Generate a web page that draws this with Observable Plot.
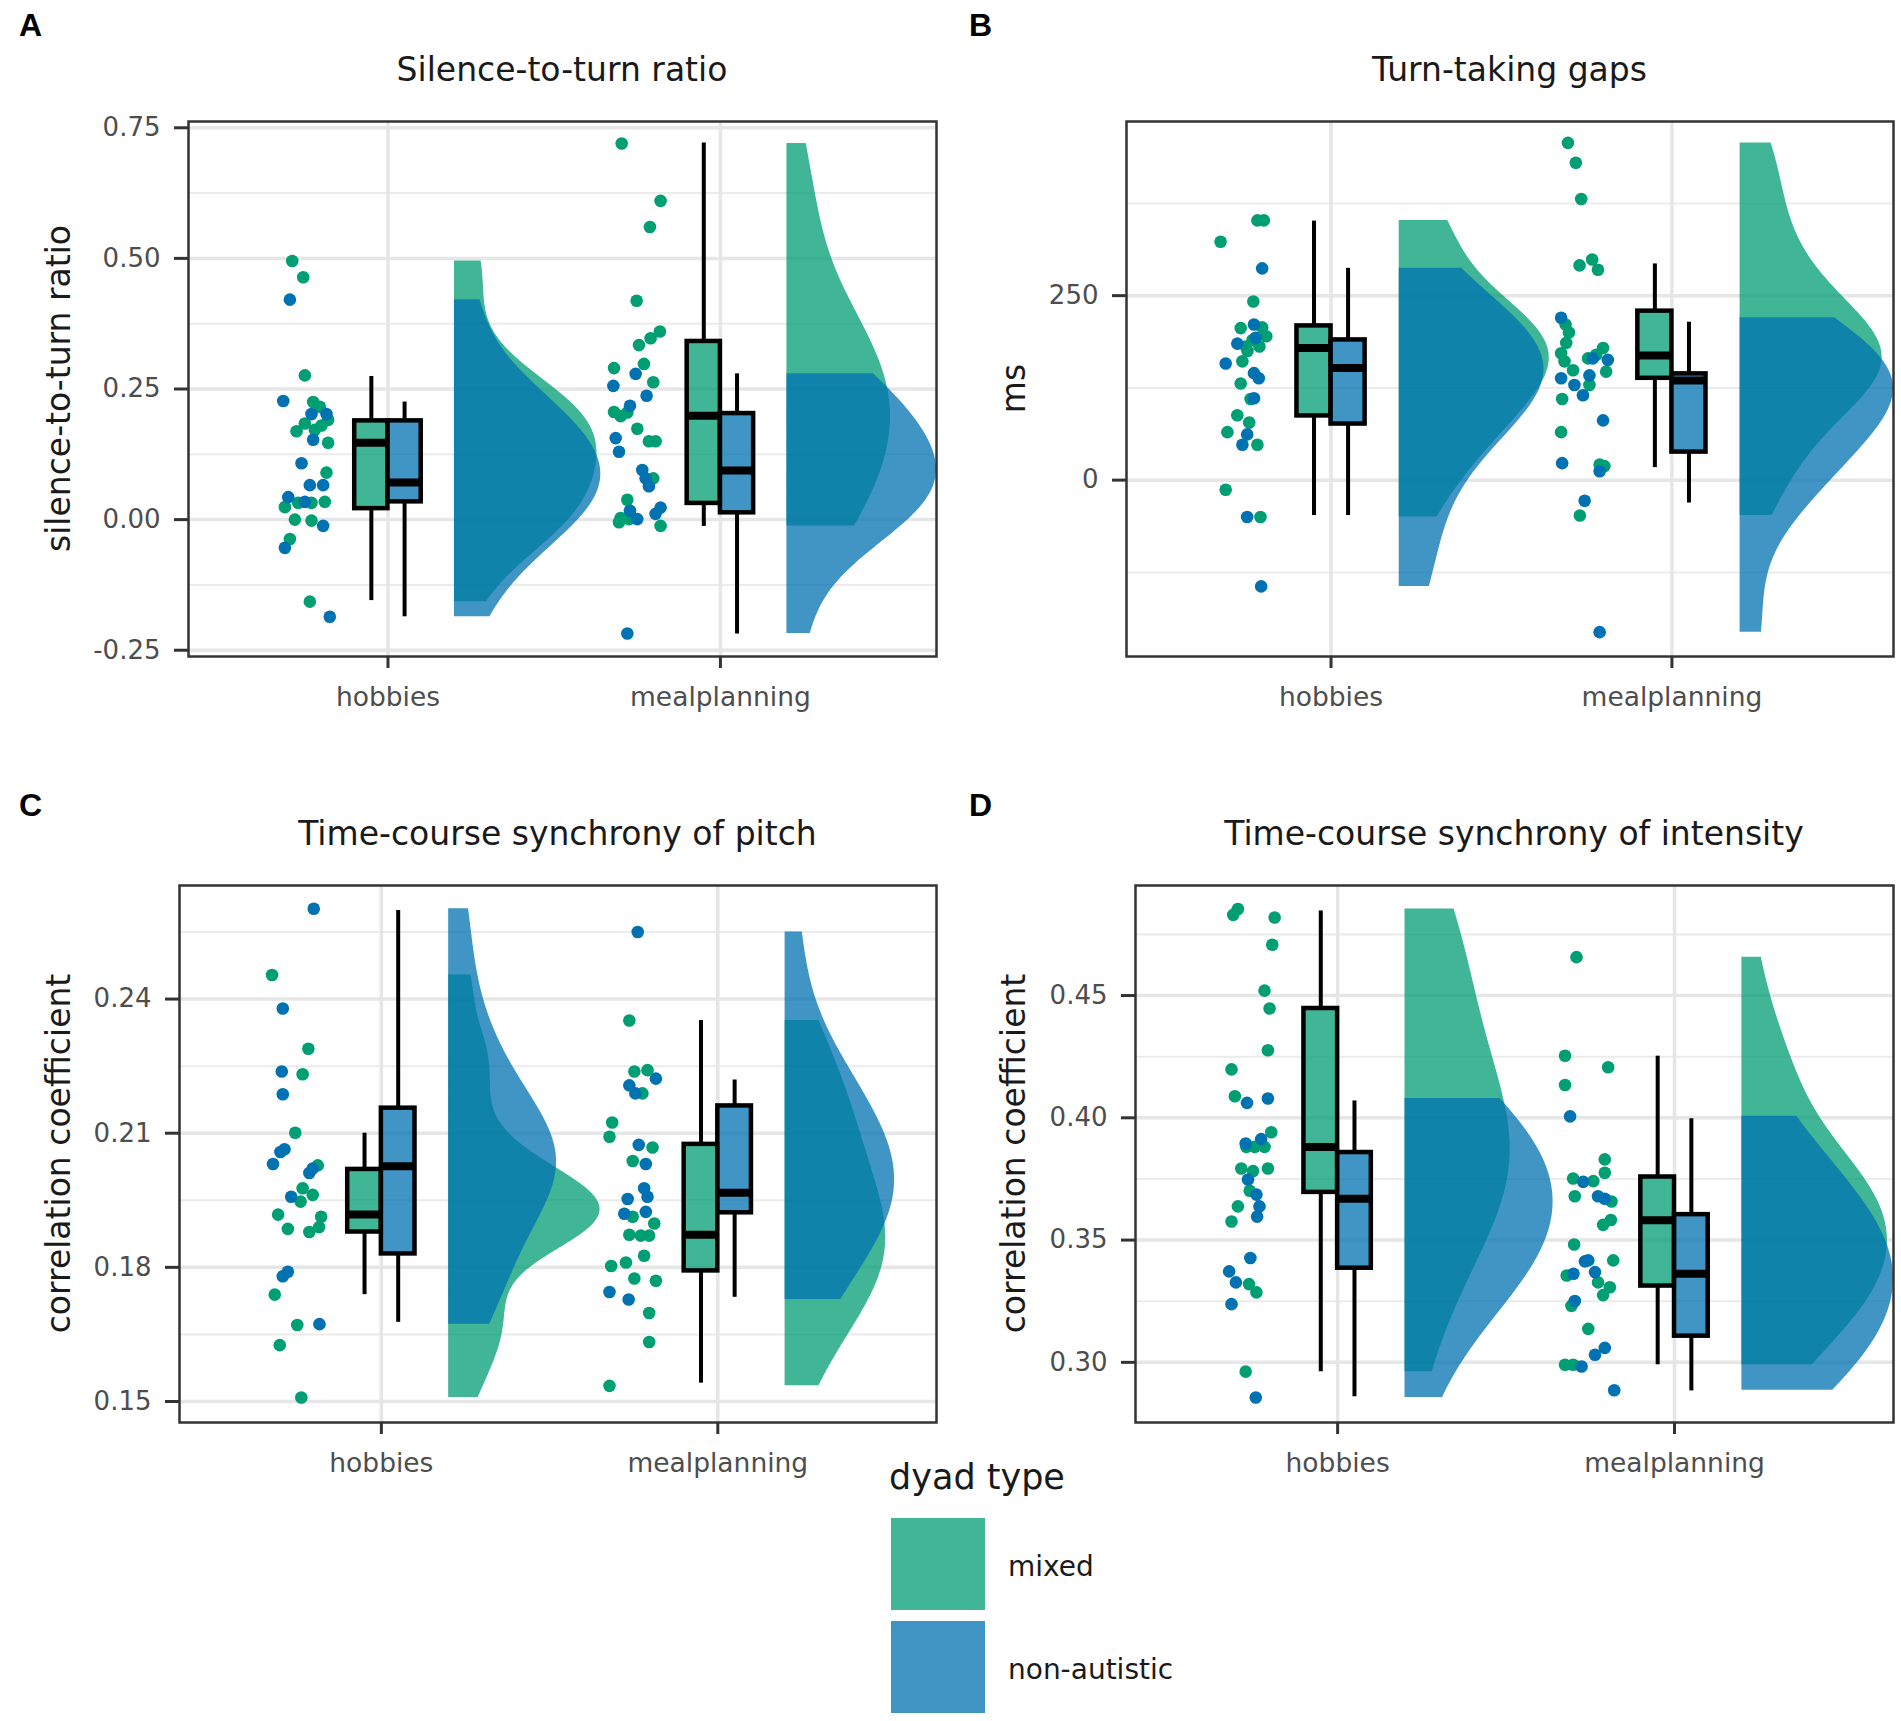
<!DOCTYPE html>
<html><head><meta charset="utf-8">
<script src="https://cdn.jsdelivr.net/npm/d3@7"></script>
<script src="https://cdn.jsdelivr.net/npm/@observablehq/plot@0.6"></script>
<style>
html,body{margin:0;padding:0;background:#fff;}
body{width:1901px;height:1721px;position:relative;overflow:hidden;font-family:"DejaVu Sans",sans-serif;}
.panel{position:absolute;}
.panel svg{display:block;max-width:none;}
#overlay{position:absolute;left:0;top:0;pointer-events:none;}
</style></head><body>
<script>
// ---------- categories & legend ----------
const tasks = ["hobbies", "mealplanning"];
const dyadTypes = ["mixed", "non-autistic"];
const typeColors = ["#009E73", "#0072B2"];
const panelTitles = ["Silence-to-turn ratio", "Turn-taking gaps", "Time-course synchrony of pitch", "Time-course synchrony of intensity"];
const yTitles = ["silence-to-turn ratio", "ms", "correlation coefficient", "correlation coefficient"];
const panelLetters = ["A", "B", "C", "D"];

// ---------- data: [jitter offset from task position, value] ----------
// A: silence-to-turn ratio
const silHobMixed = [[-0.288,0.495],[-0.255,0.464],[-0.25,0.276],[-0.225,0.225],[-0.205,0.216],[-0.18,0.191],[-0.275,0.169],[-0.25,0.184],[-0.22,0.172],[-0.18,0.147],[-0.2,0.18],[-0.185,0.09],[-0.31,0.024],[-0.27,0.032],[-0.23,0.032],[-0.19,0.034],[-0.28,0.0],[-0.23,-0.002],[-0.295,-0.037],[-0.235,-0.157]];
const silHobNon = [[-0.295,0.421],[-0.315,0.227],[-0.23,0.202],[-0.185,0.202],[-0.225,0.153],[-0.26,0.108],[-0.235,0.066],[-0.195,0.066],[-0.30,0.043],[-0.25,0.034],[-0.195,-0.012],[-0.31,-0.054],[-0.175,-0.186]];
const silMealMixed = [[-0.297,0.72],[-0.18,0.61],[-0.212,0.56],[-0.252,0.419],[-0.182,0.36],[-0.21,0.347],[-0.245,0.334],[-0.23,0.298],[-0.32,0.29],[-0.202,0.263],[-0.32,0.206],[-0.28,0.205],[-0.30,0.198],[-0.25,0.174],[-0.215,0.15],[-0.195,0.15],[-0.202,0.079],[-0.28,0.038],[-0.305,-0.005],[-0.275,0.001],[-0.30,0.003],[-0.18,-0.012]];
const silMealNon = [[-0.255,0.279],[-0.322,0.256],[-0.222,0.237],[-0.272,0.218],[-0.315,0.156],[-0.305,0.13],[-0.235,0.095],[-0.225,0.079],[-0.215,0.064],[-0.272,0.017],[-0.25,0.001],[-0.195,0.011],[-0.18,0.023],[-0.28,-0.218]];
// B: turn-taking gaps (ms)
const gapHobMixed = [[-0.216,352],[-0.197,352],[-0.324,323],[-0.228,242],[-0.265,206],[-0.202,207],[-0.25,181],[-0.21,181],[-0.23,190],[-0.245,175],[-0.19,195],[-0.26,161],[-0.265,131],[-0.236,110],[-0.275,88],[-0.24,78],[-0.304,65],[-0.216,48],[-0.309,-13],[-0.207,-50]];
const gapHobNon = [[-0.202,287],[-0.226,211],[-0.221,193],[-0.275,185],[-0.309,158],[-0.226,145],[-0.212,138],[-0.226,111],[-0.246,62],[-0.26,48],[-0.246,-50],[-0.205,-144]];
const gapMealMixed = [[-0.305,457],[-0.282,430],[-0.266,381],[-0.271,291],[-0.234,299],[-0.217,285],[-0.312,211],[-0.302,200],[-0.31,186],[-0.325,172],[-0.315,161],[-0.29,149],[-0.242,129],[-0.246,165],[-0.222,170],[-0.202,179],[-0.193,147],[-0.322,110],[-0.325,65],[-0.212,21],[-0.198,19],[-0.27,-48]];
const gapMealNon = [[-0.325,220],[-0.232,165],[-0.188,163],[-0.325,138],[-0.286,129],[-0.261,115],[-0.242,142],[-0.202,81],[-0.322,23],[-0.212,12],[-0.256,-28],[-0.212,-206]];
// C: pitch synchrony
const pitHobMixed = [[-0.325,0.2454],[-0.217,0.2289],[-0.234,0.2232],[-0.256,0.2101],[-0.189,0.2028],[-0.234,0.1977],[-0.204,0.1962],[-0.24,0.1947],[-0.307,0.1918],[-0.179,0.1913],[-0.278,0.1886],[-0.214,0.1879],[-0.185,0.189],[-0.317,0.1739],[-0.25,0.1671],[-0.302,0.1626],[-0.238,0.1509]];
const pitHobNon = [[-0.201,0.2602],[-0.293,0.2379],[-0.296,0.2238],[-0.293,0.2187],[-0.288,0.2064],[-0.30,0.2058],[-0.322,0.2031],[-0.204,0.2021],[-0.214,0.2011],[-0.268,0.1958],[-0.293,0.178],[-0.278,0.179],[-0.184,0.1673]];
const pitMealMixed = [[-0.263,0.2352],[-0.248,0.2238],[-0.209,0.2241],[-0.224,0.2189],[-0.314,0.2124],[-0.322,0.2092],[-0.194,0.2068],[-0.253,0.2038],[-0.253,0.1913],[-0.189,0.1898],[-0.263,0.1873],[-0.229,0.1871],[-0.204,0.1871],[-0.219,0.1826],[-0.317,0.1803],[-0.273,0.1811],[-0.248,0.1775],[-0.184,0.177],[-0.204,0.1698],[-0.204,0.1633],[-0.322,0.1535]];
const pitMealNon = [[-0.238,0.255],[-0.263,0.2207],[-0.245,0.2189],[-0.184,0.2222],[-0.235,0.2074],[-0.214,0.2031],[-0.219,0.1977],[-0.268,0.1953],[-0.209,0.1958],[-0.278,0.192],[-0.214,0.1924],[-0.322,0.1745],[-0.265,0.1728]];
// D: intensity synchrony
const intHobMixed = [[-0.31,0.483],[-0.296,0.4854],[-0.187,0.4819],[-0.194,0.4708],[-0.217,0.452],[-0.202,0.4447],[-0.207,0.4276],[-0.315,0.4198],[-0.305,0.4088],[-0.197,0.3941],[-0.271,0.3881],[-0.246,0.3881],[-0.217,0.3881],[-0.286,0.3793],[-0.251,0.3782],[-0.207,0.3793],[-0.261,0.3702],[-0.296,0.3638],[-0.315,0.3576],[-0.263,0.332],[-0.241,0.3286],[-0.273,0.2962]];
const intHobNon = [[-0.269,0.4061],[-0.207,0.4079],[-0.273,0.3895],[-0.227,0.3913],[-0.266,0.3748],[-0.241,0.3686],[-0.232,0.3638],[-0.239,0.3596],[-0.259,0.3427],[-0.322,0.3372],[-0.302,0.3327],[-0.315,0.3238],[-0.243,0.2856]];
const intMealMixed = [[-0.291,0.4657],[-0.325,0.4254],[-0.197,0.4207],[-0.325,0.4134],[-0.207,0.383],[-0.207,0.3775],[-0.301,0.3752],[-0.241,0.3741],[-0.296,0.3679],[-0.187,0.3658],[-0.212,0.3562],[-0.189,0.3582],[-0.298,0.3482],[-0.182,0.3417],[-0.32,0.3355],[-0.227,0.3327],[-0.192,0.3307],[-0.212,0.3275],[-0.306,0.3231],[-0.256,0.3137],[-0.325,0.299],[-0.301,0.299]];
const intMealNon = [[-0.31,0.4006],[-0.271,0.3738],[-0.227,0.3679],[-0.207,0.3669],[-0.266,0.3413],[-0.256,0.3417],[-0.236,0.3369],[-0.3,0.3362],[-0.296,0.3251],[-0.207,0.3059],[-0.236,0.3031],[-0.276,0.2983],[-0.179,0.2886]];

// ---------- box statistics [lower whisker, q1, median, q3, upper whisker]
// order: hobbies-mixed, hobbies-non-autistic, mealplanning-mixed, mealplanning-non-autistic
const silBox = [[-0.155,0.021,0.147,0.189,0.274],[-0.186,0.034,0.071,0.189,0.225],[-0.013,0.031,0.199,0.341,0.721],[-0.219,0.013,0.094,0.203,0.279]];
const gapBox = [[-48,87,179,209,351],[-48,76,152,190,287],[17,138,169,229,293],[-31,38,135,144,214]];
const pitBox = [[0.1739,0.1879,0.1918,0.2019,0.2100],[0.1677,0.1830,0.2026,0.2156,0.2598],[0.1541,0.1792,0.1873,0.2075,0.2352],[0.1733,0.1922,0.1967,0.2161,0.2219]];
const intBox = [[0.2962,0.3695,0.3881,0.4447,0.4846],[0.2859,0.3385,0.3669,0.3858,0.4069],[0.2990,0.3312,0.3581,0.3758,0.4252],[0.2883,0.3107,0.3362,0.3604,0.3996]];

// ---------- axis ticks ----------
const silMajor = [-0.25, 0, 0.25, 0.5, 0.75], silMinor = [-0.125, 0.125, 0.375, 0.625];
const gapMajor = [0, 250], gapMinor = [-125, 125, 375];
const pitMajor = [0.15, 0.18, 0.21, 0.24], pitMinor = [0.165, 0.195, 0.225, 0.255];
const intMajor = [0.30, 0.35, 0.40, 0.45], intMinor = [0.325, 0.375, 0.425, 0.475];

// ---------- layout ----------
const panels = [
  {left:0, top:0, width:950, height:730, frame:[188,936,121,656], ydomain:[-0.262,0.762], major:silMajor, minor:silMinor, fmt:d=>d.toFixed(2), groups:[silHobMixed,silHobNon,silMealMixed,silMealNon], box:silBox},
  {left:950, top:0, width:951, height:730, frame:[1126,1893,121,656], ydomain:[-239,486], major:gapMajor, minor:gapMinor, fmt:d=>String(d), groups:[gapHobMixed,gapHobNon,gapMealMixed,gapMealNon], box:gapBox},
  {left:0, top:760, width:950, height:720, frame:[179,936,885,1422], ydomain:[0.1453,0.2654], major:pitMajor, minor:pitMinor, fmt:d=>d.toFixed(2), groups:[pitHobMixed,pitHobNon,pitMealMixed,pitMealNon], box:pitBox},
  {left:950, top:760, width:951, height:720, frame:[1135,1893,885,1422], ydomain:[0.2754,0.495], major:intMajor, minor:intMinor, fmt:d=>d.toFixed(2), groups:[intHobMixed,intHobNon,intMealMixed,intMealNon], box:intBox}
];

// gaussian KDE, bandwidth nrd0 (adjusted), trimmed to data range
const bwAdjust = 1.5;
function kde(vals) {
  const v = vals.slice().sort(d3.ascending);
  const n = v.length;
  const sd = d3.deviation(v);
  const iqr = d3.quantile(v, 0.75) - d3.quantile(v, 0.25);
  let lo = Math.min(sd, iqr / 1.34);
  if (!(lo > 0)) lo = sd || 1;
  const bw = bwAdjust * 0.9 * lo * Math.pow(n, -0.2);
  const mn = v[0], mx = v[n - 1];
  return d3.range(512).map(i => {
    const y = mn + (mx - mn) * i / 511;
    let s = 0;
    for (const x of v) { const z = (y - x) / bw; s += Math.exp(-0.5 * z * z); }
    return {y, d: s / (n * bw * Math.sqrt(2 * Math.PI))};
  });
}

panels.forEach((p, pi) => {
  const marks = [];
  marks.push(Plot.ruleY(p.minor, {stroke:"#ebebeb", strokeWidth:2}));
  marks.push(Plot.ruleY(p.major, {stroke:"#e6e6e6", strokeWidth:3.5}));
  marks.push(Plot.ruleX([1, 2], {stroke:"#e6e6e6", strokeWidth:3.5}));

  // violins
  const dens = p.groups.map(g => kde(g.map(d => d[1])));
  const maxD = d3.max(dens, g => d3.max(g, d => d.d));
  dens.forEach((g, gi) => {
    const pos = 1 + Math.floor(gi / 2), t = gi % 2;
    marks.push(Plot.areaX(g, {y:"y", x1: () => pos + 0.2, x2: d => pos + 0.2 + 0.45 * d.d / maxD, fill: typeColors[t], fillOpacity: 0.75, curve:"linear"}));
  });

  // points
  p.groups.forEach((g, gi) => {
    const pos = 1 + Math.floor(gi / 2), t = gi % 2;
    marks.push(Plot.dot(g, {x: d => pos + d[0], y: d => d[1], r: 6.3, fill: typeColors[t]}));
  });

  // boxes
  const bd = p.box.map((b, i) => {
    const pos = 1 + Math.floor(i / 2), t = i % 2;
    const c = pos + (t ? 0.05 : -0.05);
    return {t, c, x1: c - 0.05, x2: c + 0.05, lo: b[0], q1: b[1], med: b[2], q3: b[3], hi: b[4]};
  });
  marks.push(Plot.ruleX(bd, {x:"c", y1:"lo", y2:"q1", stroke:"#000", strokeWidth:4}));
  marks.push(Plot.ruleX(bd, {x:"c", y1:"q3", y2:"hi", stroke:"#000", strokeWidth:4}));
  [0, 1].forEach(t => {
    marks.push(Plot.rect(bd.filter(d => d.t === t), {x1:"x1", x2:"x2", y1:"q1", y2:"q3", fill: typeColors[t], fillOpacity:0.75, stroke:"#000", strokeWidth:4.5}));
  });
  marks.push(Plot.ruleY(bd, {y:"med", x1:"x1", x2:"x2", stroke:"#000", strokeWidth:8}));

  marks.push(Plot.frame({stroke:"#333", strokeWidth:2.5}));
  marks.push(Plot.axisY({ticks: p.major, tickFormat: p.fmt, tickSize:14, tickPadding:14, fontSize:26, stroke:"#333", strokeWidth:3, fill:"#4d4d4d"}));
  marks.push(Plot.axisX({ticks: [1, 2], tickFormat: d => tasks[d - 1], tickSize:12, tickPadding:19, fontSize:26.5, stroke:"#333", strokeWidth:3, fill:"#4d4d4d"}));

  const chart = Plot.plot({
    width: p.width, height: p.height,
    marginLeft: p.frame[0] - p.left, marginRight: p.left + p.width - p.frame[1],
    marginTop: p.frame[2] - p.top, marginBottom: p.top + p.height - p.frame[3],
    x: {domain: [0.4, 2.65]},
    y: {domain: p.ydomain},
    style: {fontFamily: "DejaVu Sans", background: "transparent", overflow: "visible"},
    marks
  });
  const div = document.createElement("div");
  div.className = "panel";
  div.style.left = p.left + "px"; div.style.top = p.top + "px";
  div.style.width = p.width + "px"; div.style.height = p.height + "px";
  div.appendChild(chart);
  document.body.appendChild(div);
});

// ---------- titles, panel letters, axis titles, legend ----------
const svg = d3.select(document.body).append("svg").attr("id", "overlay")
  .attr("width", 1901).attr("height", 1721)
  .style("font-family", "DejaVu Sans");
panels.forEach((p, i) => {
  const cx = (p.frame[0] + p.frame[1]) / 2, cy = (p.frame[2] + p.frame[3]) / 2;
  svg.append("text").attr("x", cx).attr("y", p.frame[2] - 40).attr("text-anchor", "middle")
    .attr("font-size", 33).attr("fill", "#1a1a1a").text(panelTitles[i]);
  svg.append("text").attr("x", p.left + 19).attr("y", p.top + 36 + (i >= 2 ? 20 : 0))
    .attr("font-family", "Liberation Sans").attr("font-weight", "bold").attr("font-size", 32).attr("fill", "#000").text(panelLetters[i]);
  const tx = i % 2 === 0 ? 70 : 1025;
  svg.append("text").attr("transform", `translate(${tx},${cy}) rotate(-90)`).attr("text-anchor", "middle")
    .attr("font-size", 33).attr("fill", "#1a1a1a").text(yTitles[i]);
});
svg.append("text").attr("x", 889).attr("y", 1489).attr("font-size", 35).attr("fill", "#1a1a1a").text("dyad type");
dyadTypes.forEach((t, i) => {
  svg.append("rect").attr("x", 891).attr("y", 1518 + i * 103).attr("width", 94).attr("height", 92)
    .attr("fill", typeColors[i]).attr("fill-opacity", 0.75);
  svg.append("text").attr("x", 1008).attr("y", 1576 + i * 103).attr("font-size", 28).attr("fill", "#1a1a1a").text(t);
});
</script>
</body></html>
